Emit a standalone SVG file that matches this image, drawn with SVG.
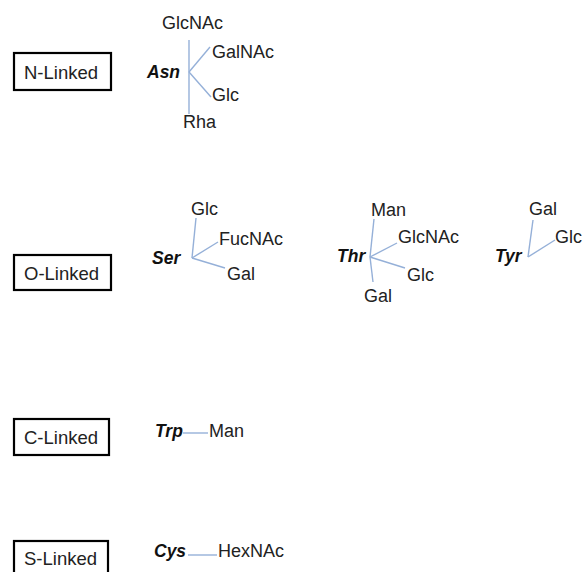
<svg xmlns="http://www.w3.org/2000/svg" width="585" height="572" viewBox="0 0 585 572">
<style>
.box{fill:#fff;stroke:#000;stroke-width:2.2}
.bl{font-family:"Liberation Sans",Arial,sans-serif;font-size:18.5px;fill:#222}
.s{font-family:"Liberation Sans",Arial,sans-serif;font-size:18px;fill:#222}
.aa{font-family:"Liberation Sans",Arial,sans-serif;font-size:17.5px;font-weight:bold;font-style:italic;fill:#111}
.ln{stroke:#95b0d8;stroke-width:1.4;fill:none}
</style>
<rect width="585" height="572" fill="#fff"/>
<g id="n-linked">
<rect class="box" x="14" y="53" width="97" height="37"/>
<text class="bl" x="24" y="79">N-Linked</text>
</g>
<g id="o-linked">
<rect class="box" x="14" y="255" width="97" height="35"/>
<text class="bl" x="24" y="280">O-Linked</text>
</g>
<g id="c-linked">
<rect class="box" x="14" y="419" width="95" height="36"/>
<text class="bl" x="24" y="444">C-Linked</text>
</g>
<g id="s-linked">
<rect class="box" x="14" y="541" width="94" height="40"/>
<text class="bl" x="24" y="565">S-Linked</text>
</g>
<g id="asn">
<text class="aa" x="147" y="78">Asn</text>
<text class="s" x="162" y="29">GlcNAc</text>
<text class="s" x="212" y="58">GalNAc</text>
<text class="s" x="212" y="101">Glc</text>
<text class="s" x="183" y="128">Rha</text>
</g>
<g id="ser">
<text class="aa" x="152" y="264">Ser</text>
<text class="s" x="191" y="215">Glc</text>
<text class="s" x="219" y="245">FucNAc</text>
<text class="s" x="227" y="280">Gal</text>
</g>
<g id="thr">
<text class="aa" x="337" y="262">Thr</text>
<text class="s" x="371" y="216">Man</text>
<text class="s" x="398" y="243">GlcNAc</text>
<text class="s" x="407" y="281">Glc</text>
<text class="s" x="364" y="302">Gal</text>
</g>
<g id="tyr">
<text class="aa" x="495" y="262">Tyr</text>
<text class="s" x="529" y="215">Gal</text>
<text class="s" x="555" y="243">Glc</text>
</g>
<g id="trp">
<text class="aa" x="155" y="437">Trp</text>
<text class="s" x="209" y="437">Man</text>
</g>
<g id="cys">
<text class="aa" x="154" y="557">Cys</text>
<text class="s" x="218" y="557">HexNAc</text>
</g>
<g id="connectors">
<line class="ln" x1="189" y1="40" x2="189" y2="114"/>
<line class="ln" x1="189" y1="72" x2="210" y2="47"/>
<line class="ln" x1="189" y1="72" x2="211" y2="97"/>
<line class="ln" x1="192" y1="258" x2="196" y2="218"/>
<line class="ln" x1="192" y1="258" x2="218" y2="242"/>
<line class="ln" x1="192" y1="258" x2="225" y2="268"/>
<line class="ln" x1="370" y1="257" x2="374" y2="219"/>
<line class="ln" x1="370" y1="257" x2="397" y2="243"/>
<line class="ln" x1="370" y1="257" x2="405" y2="268"/>
<line class="ln" x1="370" y1="257" x2="373" y2="282"/>
<line class="ln" x1="528" y1="257" x2="533" y2="220"/>
<line class="ln" x1="528" y1="257" x2="555" y2="240"/>
<line class="ln" x1="183" y1="433" x2="208" y2="433"/>
<line class="ln" x1="188" y1="555" x2="217" y2="555"/>
</g>
</svg>
